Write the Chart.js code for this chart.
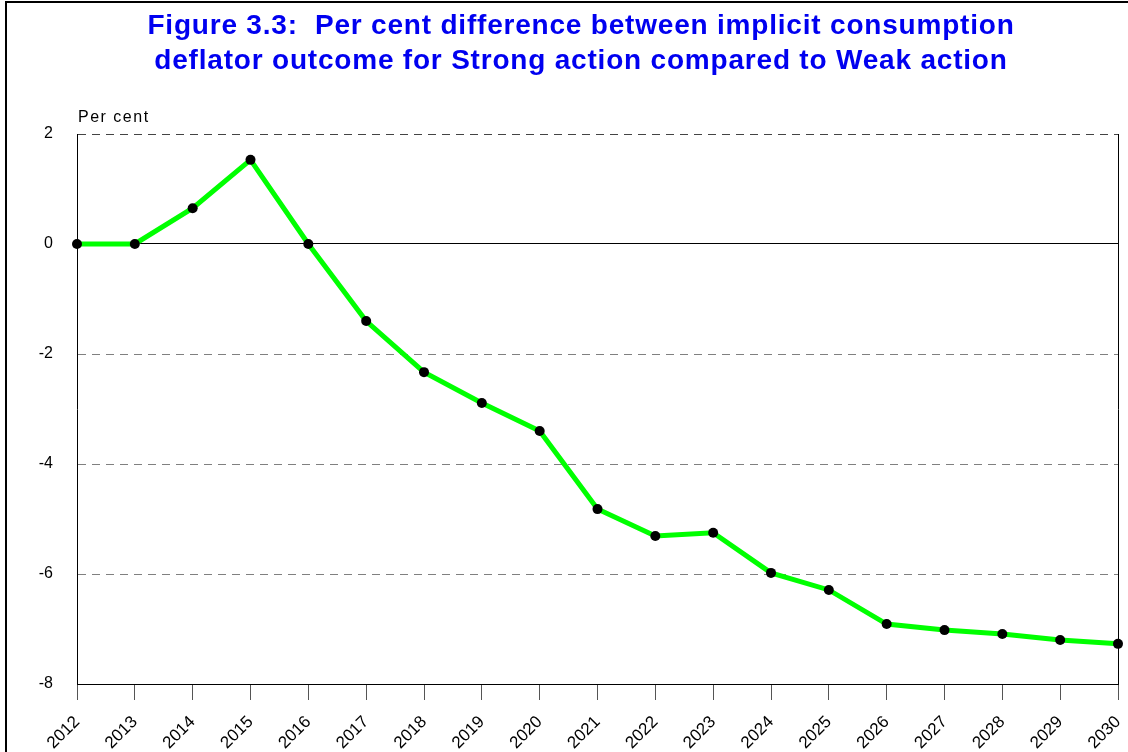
<!DOCTYPE html>
<html>
<head>
<meta charset="utf-8">
<script src="https://cdn.jsdelivr.net/npm/chart.js@4.4.1/dist/chart.umd.min.js"></script>
<style>
  body { margin: 0; background: #fff; overflow: hidden; }
  #wrap { position: relative; width: 1128px; height: 752px; }
  #frame { position: absolute; left: 5px; top: 1px; width: 1200px; height: 800px;
           border-left: 2px solid #000; border-top: 2px solid #000; pointer-events: none; }
  #title { position: absolute; left: 0; top: 7px; width: 1162px; text-align: center;
           font: bold 28px 'Liberation Sans', Arial, sans-serif; line-height: 35px;
           letter-spacing: 0.8px; color: #0000f0; }
</style>
</head>
<body>
<div id="wrap">
  <canvas id="myChart" width="1128" height="752"></canvas>
  <div id="title"></div>
  <div id="frame"></div>
</div>
<script>
var years = ["2012","2013","2014","2015","2016","2017","2018","2019","2020","2021",
             "2022","2023","2024","2025","2026","2027","2028","2029","2030"];
var pctDiff = [0, 0, 0.65, 1.53, 0, -1.4, -2.33, -2.89, -3.4, -4.82,
               -5.31, -5.25, -5.98, -6.29, -6.91, -7.02, -7.09, -7.2, -7.27];
var yTicks = [2, 0, -2, -4, -6, -8];
var titleLines = ["Figure 3.3:  Per cent difference between implicit consumption",
                  "deflator outcome for Strong action compared to Weak action"];
var yUnit = "Per cent";

document.getElementById("title").innerHTML = titleLines.join("<br>").replace(/  /g, " &nbsp;");

// "Per cent" label above the y axis
var unitLabel = {
  id: "unitLabel",
  afterDraw: function(chart) {
    var c = chart.ctx;
    c.save();
    c.font = "16px 'Liberation Sans', Arial, sans-serif";
    c.letterSpacing = "1.5px";
    c.fillStyle = "#000";
    c.textAlign = "left";
    c.textBaseline = "bottom";
    c.fillText(yUnit, chart.chartArea.left + 1, chart.chartArea.top - 8);
    c.restore();
  }
};

new Chart("myChart", {
  type: "line",
  data: {
    labels: years,
    datasets: [{
      data: pctDiff,
      borderColor: "#00ff00",
      borderWidth: 5,
      pointBackgroundColor: "#000",
      pointBorderWidth: 0,
      pointRadius: 5,
      tension: 0,
      clip: false
    }]
  },
  options: {
    responsive: false,
    animation: false,
    layout: { padding: { left: 0, right: 10, top: 134, bottom: 0 } },
    plugins: {
      legend: { display: false },
      tooltip: { enabled: false },
      title: { display: false }
    },
    scales: {
      x: {
        offset: false,
        grid: { drawOnChartArea: false, drawTicks: true, tickLength: 16, color: "#555" },
        border: { display: true, color: "#000", width: 1 },
        ticks: {
          color: "#000",
          font: { family: "'Liberation Sans', Arial, sans-serif", size: 17 },
          maxRotation: 45, minRotation: 45, autoSkip: false, padding: 12
        },
        afterFit: function(scale) {
          scale.height = 68;
          scale.paddingLeft = 0;
          scale.paddingRight = 0;
        }
      },
      y: {
        min: yTicks[yTicks.length - 1], max: yTicks[0],
        afterBuildTicks: function(scale) {
          scale.ticks = yTicks.slice().reverse().map(function(v) { return { value: v }; });
        },
        ticks: {
          color: "#000", padding: 24,
          font: { family: "'Liberation Sans', Arial, sans-serif", size: 16 },
          callback: function(v) { return String(v); }
        },
        grid: {
          drawTicks: false,
          color: function(ctx) {
            if (!ctx.tick) return "#000";
            if (ctx.tick.value === 0 || ctx.tick.value === -8) return "#000";
            if (ctx.tick.value === 2) return "#444";
            return "#808080";
          }
        },
        border: {
          display: true, color: "#000", width: 1,
          dash: function(ctx) {
            if (!ctx.tick) return [];
            if (ctx.tick.value === 0 || ctx.tick.value === -8) return [];
            return [8, 6];
          }
        },
        afterFit: function(scale) {
          scale.width = 77;
          scale.paddingTop = 0;
        }
      },
      y2: {
        position: "right",
        min: -8, max: 2,
        ticks: { display: false },
        grid: { display: false, drawTicks: false },
        border: { display: true, color: "#000", width: 1 },
        afterFit: function(scale) { scale.width = 0; }
      }
    }
  },
  plugins: [unitLabel]
});
</script>
</body>
</html>
